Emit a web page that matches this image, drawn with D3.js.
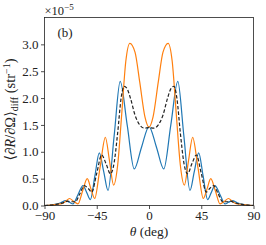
<!DOCTYPE html>
<html>
<head>
<meta charset="utf-8">
<script src="https://cdn.jsdelivr.net/npm/d3@7"></script>
<style>
  body { margin: 0; background: #fff; }
  svg text { font-family: "Liberation Serif", "DejaVu Serif", serif; fill: #222; }
</style>
</head>
<body>
<svg id="drawing_region"></svg>
<script>
// angles (deg) and values (x1e-5 str^-1)
const theta_blue = [-90, -85, -80, -76, -71.8, -68.5, -65.5, -61.2, -56.8, -53.6, -50.5, -46.6, -42.8, -39, -35.3, -30, -24.8, -18.8, -12.7, -6.5,
                    0, 6.5, 12.7, 18.8, 24.8, 30, 35.3, 39, 42.8, 46.6, 50.5, 53.6, 56.8, 61.2, 65.5, 68.5, 71.8, 76, 80, 85, 90];
const blue = [0, 0.008, 0.025, 0.05, 0.09, 0.06, 0.03, 0.2, 0.37, 0.24, 0.11, 0.55, 0.98, 0.63, 0.28, 1.3, 2.31, 1.5, 0.68, 1.08,
              1.47, 1.08, 0.68, 1.5, 2.31, 1.3, 0.28, 0.63, 0.98, 0.55, 0.11, 0.24, 0.37, 0.2, 0.03, 0.06, 0.09, 0.05, 0.025, 0.008, 0];

const theta_orange = [-90, -85, -80, -75, -71.5, -68.5, -65, -61.2, -57.2, -53.2, -50, -46.8, -42.2, -37.6, -34, -30.5, -27, -23.5, -20, -16.5, -12, -8, -3.5,
                      0, 3.5, 8, 12, 16.5, 20, 23.5, 27, 30.5, 34, 37.6, 42.2, 46.8, 50, 53.2, 57.2, 61.2, 65, 68.5, 71.5, 75, 80, 85, 90];
const orange = [0, 0.007, 0.02, 0.035, 0.08, 0.13, 0.08, 0.03, 0.27, 0.5, 0.31, 0.13, 0.7, 1.27, 0.83, 0.38, 0.75, 1.7, 2.68, 3.02, 2.85, 2.3, 1.65,
                1.46, 1.65, 2.3, 2.85, 3.02, 2.68, 1.7, 0.75, 0.38, 0.83, 1.27, 0.7, 0.13, 0.31, 0.5, 0.27, 0.03, 0.08, 0.13, 0.08, 0.035, 0.02, 0.007, 0];

const theta_avg = [-90, -85, -80, -74, -70, -67, -63.5, -59.5, -55.7, -52.5, -49.3, -45, -40.8, -37, -33.2, -30, -27, -24, -21.5, -19, -16, -12, -8, -4,
                   0, 4, 8, 12, 16, 19, 21.5, 24, 27, 30, 33.2, 37, 40.8, 45, 49.3, 52.5, 55.7, 59.5, 63.5, 67, 70, 74, 80, 85, 90];
const avg = [0, 0.007, 0.02, 0.05, 0.08, 0.07, 0.07, 0.22, 0.37, 0.32, 0.25, 0.6, 0.94, 0.78, 0.59, 0.8, 1.35, 2.0, 2.22, 2.18, 2.0, 1.68, 1.5, 1.44,
             1.45, 1.44, 1.5, 1.68, 2.0, 2.18, 2.22, 2.0, 1.35, 0.8, 0.59, 0.78, 0.94, 0.6, 0.25, 0.32, 0.37, 0.22, 0.07, 0.07, 0.08, 0.05, 0.02, 0.007, 0];

const xticks = [-90, -45, 0, 45, 90];
const yticks = [0, 0.5, 1.0, 1.5, 2.0, 2.5, 3.0];

const width = 266, height = 245;
const margin = {top: 17.5, right: 12.5, bottom: 39.5, left: 44.5};

const svg = d3.select('#drawing_region')
    .attr('width', width)
    .attr('height', height);

const inner_width = width - margin.left - margin.right;
const inner_height = height - margin.top - margin.bottom;

const chart = svg.append('g')
    .attr('transform', `translate(${margin.left}, ${margin.top})`);

const xscale = d3.scaleLinear().domain([-90, 90]).range([0, inner_width]);
const yscale = d3.scaleLinear().domain([0, 3.5]).range([inner_height, 0]);

const minus = s => s.replace('-', '\u2212');

const xaxis = d3.axisBottom(xscale)
    .tickValues(xticks)
    .tickSize(3.5)
    .tickPadding(2)
    .tickFormat(d => minus(String(d)));

const yaxis = d3.axisLeft(yscale)
    .tickValues(yticks)
    .tickSize(3.5)
    .tickPadding(2.5)
    .tickFormat(d3.format('.1f'));

const xaxis_group = chart.append('g')
    .attr('transform', `translate(0, ${inner_height})`)
    .call(xaxis);
const yaxis_group = chart.append('g').call(yaxis);

[xaxis_group, yaxis_group].forEach(g => {
    g.select('.domain').remove();
    g.selectAll('.tick line').attr('stroke', '#222').attr('stroke-width', 0.8);
    g.selectAll('.tick text')
        .attr('font-family', '"Liberation Serif", serif')
        .attr('font-size', 13)
        .attr('fill', '#222');
});

// lines
const lines = [
    {x: theta_blue, y: blue, color: '#1f77b4', dash: null},
    {x: theta_orange, y: orange, color: '#ff7f0e', dash: null},
    {x: theta_avg, y: avg, color: '#222', dash: '3.5,2'}
];

const line = d3.line()
    .x(d => xscale(d[0]))
    .y(d => yscale(d[1]))
    .curve(d3.curveMonotoneX);

lines.forEach(s => {
    chart.append('path')
        .datum(d3.zip(s.x, s.y))
        .attr('d', line)
        .attr('fill', 'none')
        .attr('stroke', s.color)
        .attr('stroke-width', 1.2)
        .attr('stroke-dasharray', s.dash);
});

// frame
chart.append('rect')
    .attr('width', inner_width)
    .attr('height', inner_height)
    .attr('fill', 'none')
    .attr('stroke', '#222')
    .attr('stroke-width', 0.8);

// texts
chart.append('text')
    .attr('x', 13)
    .attr('y', 19.5)
    .attr('font-size', 13)
    .text('(b)');

const mult = svg.append('text')
    .attr('x', margin.left)
    .attr('y', 15)
    .attr('font-size', 12.5);
mult.append('tspan').text('\u00d710');
mult.append('tspan').attr('dy', -5).attr('font-size', 9).text('\u22125');

const xlabel = svg.append('text')
    .attr('x', margin.left + inner_width / 2)
    .attr('y', 236)
    .attr('text-anchor', 'middle')
    .attr('font-size', 13.5);
xlabel.append('tspan').attr('font-style', 'italic').text('\u03b8');
xlabel.append('tspan').text(' (deg)');

const ylabel = svg.append('text')
    .attr('transform', `translate(15, ${margin.top + inner_height / 2 - 2}) rotate(-90)`)
    .attr('text-anchor', 'middle')
    .attr('font-size', 14.5);
ylabel.append('tspan').text('\u27e8\u2202');
ylabel.append('tspan').attr('font-style', 'italic').text('R');
ylabel.append('tspan').text('/\u2202\u03a9\u27e9');
ylabel.append('tspan').attr('dy', 3).attr('font-size', 10).text('diff');
ylabel.append('tspan').attr('dy', -3).text(' (str');
ylabel.append('tspan').attr('dy', -5.5).attr('font-size', 10).text('\u22121');
ylabel.append('tspan').attr('dy', 5.5).text(')');
</script>
</body>
</html>
